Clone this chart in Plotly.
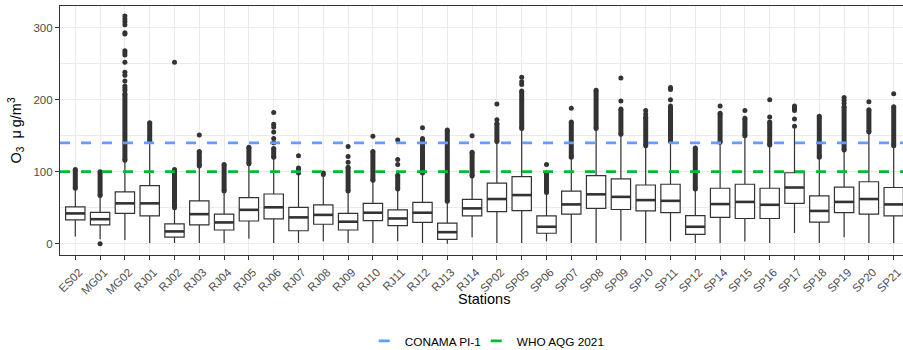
import plotly.graph_objects as go

stations = ["ES02", "MG01", "MG02", "RJ01", "RJ02", "RJ03", "RJ04", "RJ05", "RJ06",
            "RJ07", "RJ08", "RJ09", "RJ10", "RJ11", "RJ12", "RJ13", "RJ14",
            "SP02", "SP05", "SP06", "SP07", "SP08", "SP09", "SP10", "SP11", "SP12",
            "SP14", "SP15", "SP16", "SP17", "SP18", "SP19", "SP20", "SP21"]

lower_whisker = [10, 6, 5, 1, 1, 1, 1, 7, 1,
                 1, 3.5, 1, 1, 3.5, 1, 0, 9,
                 1, 1, 3.5, 1, 1, 4, 1, 3.5, 1,
                 1, 3, 1, 15, 1, 9, 1, 1]
q1 = [33, 26, 42, 38.5, 9, 26, 19, 31.5, 34.5,
      18, 27, 19, 32, 25, 29.5, 6, 38.5,
      44.5, 46, 14.5, 41, 49, 47.5, 45.5, 43, 13,
      36.5, 35, 35, 56, 30, 43, 41, 38.5]
median = [42, 34, 56, 56, 17, 41, 29.5, 47, 50.5,
          36.5, 40, 30.5, 43, 35, 43, 16, 49,
          62, 67.5, 23.5, 54.5, 68.5, 65, 60.5, 59.5, 23.5,
          55, 58, 54, 78, 45.5, 58, 62, 54.5]
q3 = [51, 43.5, 72, 80.5, 27.5, 59.5, 41, 64, 69,
      50.5, 54, 42, 56, 47, 57.5, 28.5, 61.5,
      84, 93, 38.5, 73, 94.5, 90, 81.5, 82.5, 39,
      77, 82.5, 77, 98.5, 66.5, 78.5, 86, 78]
upper_whisker = [76, 66, 115, 141, 49, 107, 72, 110, 118,
                 97, 95, 72, 87, 75, 97, 58, 93,
                 141, 158, 70, 118, 158, 151, 135, 141, 74,
                 139, 149, 135, 160, 118, 128, 153, 135]

# outliers: densely packed run (low, high) and isolated outlier values
outlier_run_low = [77, 67, 116, 143, 50, 108, 73, 111, 120,
                   98, None, 73, 88, 76, 98, 59, 94,
                   142, 160, 71, 120, 160, 152, 136, 142, 76,
                   141, 150, 137, None, 120, 130, 155, 136]
outlier_run_high = [103, 100, 208, 168, 103, 128, 110, 134, 132,
                    105, None, 106, 128, 95, 146, 158, 127,
                    167, 212, 98, 169, 213, 187, 176, 191, 133,
                    181, 174, 169, None, 177, 190, 186, 190]
outlier_single = [
    [], [0],
    [213, 216, 219, 226, 234, 238, 252, 262, 265, 268, 291, 293, 304, 308, 312, 316],
    [], [252], [151], [], [], [140, 146, 155, 162, 166, 182],
    [122], [96, 98], [113, 121, 135], [149], [110, 117, 144], [161], [], [150],
    [172, 194], [221, 225, 231], [110], [188], [], [198, 230], [180, 185],
    [200, 214, 217], [],
    [191], [185], [176, 200], [163, 173, 185, 187, 189, 191], [], [195, 199, 203], [197], [208],
]

limit_names = ["CONAMA PI-1", "WHO AQG 2021"]
limit_values = [140, 100]
limit_colors = ["#619CFF", "#00BA38"]

tick_values_y = [0, 100, 200, 300]

DARK = "#333333"
FONT = "Liberation Sans, Arial, sans-serif"
x_range = [-0.617, 33.375]
box_w = 0.78

pos = list(range(len(stations)))

fig = go.Figure()

fig.add_trace(go.Box(
    x=pos, q1=q1, median=median, q3=q3,
    lowerfence=lower_whisker, upperfence=upper_whisker,
    width=box_w, whiskerwidth=0, fillcolor="white",
    line=dict(color=DARK, width=1.2), boxpoints=False,
    showlegend=False, hoverinfo="skip"))

# thicker median bars
mx, my = [], []
for p, m in zip(pos, median):
    mx += [p - box_w / 2, p + box_w / 2, None]
    my += [m, m, None]
fig.add_trace(go.Scatter(x=mx, y=my, mode="lines",
                         line=dict(color=DARK, width=2.6),
                         showlegend=False, hoverinfo="skip"))

# dense outlier runs
rx, ry = [], []
for p, lo, hi in zip(pos, outlier_run_low, outlier_run_high):
    if lo is None:
        continue
    rx += [p, p, None]
    ry += [lo, hi, None]
fig.add_trace(go.Scatter(x=rx, y=ry, mode="lines+markers",
                         line=dict(color=DARK, width=5),
                         marker=dict(color=DARK, size=5),
                         showlegend=False, hoverinfo="skip"))

# isolated outliers
sx, sy = [], []
for p, vals in zip(pos, outlier_single):
    for v in vals:
        sx.append(p)
        sy.append(v)
fig.add_trace(go.Scatter(x=sx, y=sy, mode="markers",
                         marker=dict(color=DARK, size=5),
                         showlegend=False, hoverinfo="skip"))

# guideline lines
for name, val, col in zip(limit_names, limit_values, limit_colors):
    fig.add_trace(go.Scatter(x=x_range, y=[val, val], mode="lines",
                             line=dict(color=col, width=2.8, dash="10px,11px"),
                             showlegend=False, hoverinfo="skip"))
legend_ids = ["legend", "legend2"]
for name, col, lid in zip(limit_names, limit_colors, legend_ids):
    fig.add_trace(go.Scatter(x=[None], y=[None], mode="lines", name=name, legend=lid,
                             line=dict(color=col, width=2.8, dash="0px,9px,11px,100px")))

legend_common = dict(orientation="h", xanchor="left", yref="container", y=0.026,
                     yanchor="middle", font=dict(size=11.8, color="black"),
                     bgcolor="rgba(0,0,0,0)")

fig.update_layout(
    width=903, height=350,
    margin=dict(l=60, r=0, t=6, b=95, autoexpand=False),
    paper_bgcolor="white", plot_bgcolor="white",
    font=dict(family=FONT, color="black"),
    showlegend=True,
    legend=dict(x=0.3615, **legend_common),
    legend2=dict(x=0.3615 + 112 / 843, **legend_common),
    xaxis=dict(range=x_range, tickmode="array", tickvals=pos, ticktext=stations,
               tickangle=-45, tickfont=dict(size=11.5, color="#4D4D4D"),
               ticklabelshift=4, ticklabelstandoff=1, ticklabeloverflow="allow",
               ticks="outside", ticklen=4, tickcolor=DARK, tickwidth=1,
               showgrid=True, gridcolor="#EBEBEB", gridwidth=1,
               showline=True, linecolor=DARK, linewidth=1.1, mirror=True,
               zeroline=False, automargin=False),
    yaxis=dict(range=[-15.7, 330], tickmode="array", tickvals=tick_values_y,
               tickfont=dict(size=11.5, color="#4D4D4D"),
               ticks="outside", ticklen=4, tickcolor=DARK, tickwidth=1,
               showgrid=True, gridcolor="#EBEBEB", gridwidth=1,
               minor=dict(tickmode="array", tickvals=[50, 150, 250], showgrid=True,
                          gridcolor="#EBEBEB", gridwidth=0.6, ticks=""),
               showline=True, linecolor=DARK, linewidth=1.1, mirror=False,
               zeroline=False, automargin=False,
               title=dict(text="O<sub>3</sub>\u00a0\u00a0\u03bc\u2009g/m<sup>3</sup>",
                          font=dict(size=14.5, color="black"), standoff=8)),
    annotations=[dict(text="Stations", xref="paper", yref="paper",
                      x=(484 - 60) / 843, y=-(299 - 255) / 249,
                      xanchor="center", yanchor="middle", showarrow=False,
                      font=dict(size=14.5, color="black"))],
)

fig.write_html("out.html")
